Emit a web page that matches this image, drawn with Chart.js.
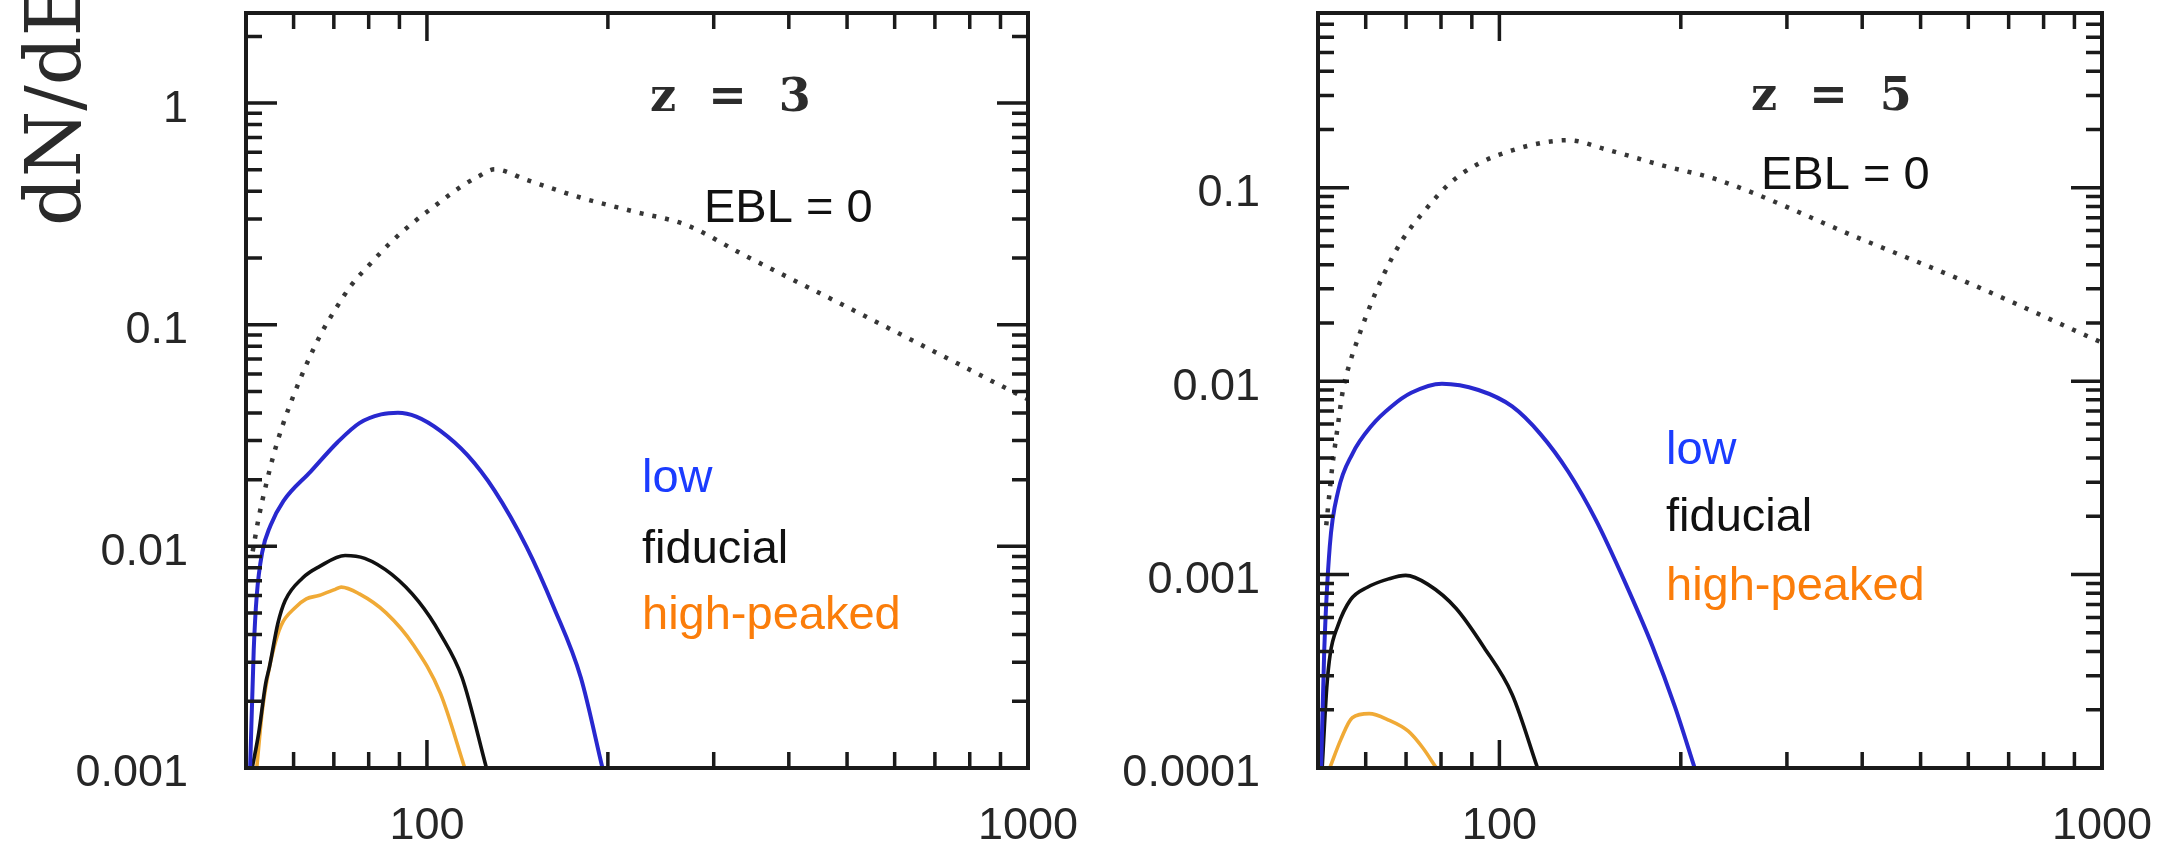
<!DOCTYPE html>
<html>
<head>
<meta charset="utf-8">
<script src="https://cdn.jsdelivr.net/npm/chart.js@4.4.1/dist/chart.umd.min.js"></script>
<style>
  html, body { margin: 0; padding: 0; background: #ffffff; }
  body { width: 2178px; height: 852px; position: relative; overflow: hidden; }
  canvas { position: absolute; top: 0; }
  #panelZ3 { left: 0; }
  #panelZ5 { left: 1100px; }
</style>
</head>
<body>
<canvas id="panelZ3" width="1100" height="852"></canvas>
<canvas id="panelZ5" width="1078" height="852"></canvas>
<script>
// ---- z = 3 : photon energy (GeV) and dN/dE ----
const energyZ3NoEbl = [51.3, 52.5, 54.0, 55.6, 57.5, 60.0, 63.0, 66.5, 70.5, 75.0, 80.0, 87.0, 95.0, 104, 114, 122, 129.5, 146.6, 180, 220, 270, 336, 507, 700, 1000];
const fluxZ3NoEbl   = [0.0095, 0.0135, 0.019, 0.026, 0.035, 0.048, 0.066, 0.09, 0.118, 0.152, 0.185, 0.235, 0.29, 0.35, 0.42, 0.468, 0.503, 0.45, 0.375, 0.325, 0.282, 0.207, 0.118, 0.0754, 0.046];

const energyZ3Low = [50.8, 51.5, 52.1, 53.2, 54.9, 57.7, 64.1, 71.0, 77.2, 83.9, 89.5, 96.0, 105.3, 116.8, 129.5, 146.6, 162.6, 180.3, 195.9];
const fluxZ3Low   = [0.001, 0.0034, 0.006, 0.0094, 0.0124, 0.016, 0.0218, 0.0295, 0.036, 0.0394, 0.0401, 0.0385, 0.0332, 0.0258, 0.0179, 0.0099, 0.0053, 0.00256, 0.001];

const energyZ3Fiducial = [51.2, 52.5, 53.9, 54.7, 56.5, 58.1, 62.1, 66.2, 73.1, 78.8, 87.4, 96.9, 105.3, 114.4, 125.6];
const fluxZ3Fiducial   = [0.001, 0.00144, 0.0024, 0.00286, 0.0045, 0.0057, 0.0072, 0.0081, 0.0091, 0.00883, 0.00747, 0.00563, 0.00402, 0.00256, 0.001];

const energyZ3HighPeaked = [52.1, 53.2, 54.2, 55.5, 57.2, 60.4, 63.0, 66.1, 70.4, 72.0, 77.2, 85.6, 94.9, 105.3, 115.6];
const fluxZ3HighPeaked   = [0.001, 0.0018, 0.0025, 0.0034, 0.0044, 0.0053, 0.0058, 0.006, 0.0064, 0.00655, 0.0061, 0.005, 0.0036, 0.00217, 0.001];

// ---- z = 5 ----
const energyZ5NoEbl = [51.6, 52.8, 53.9, 55.0, 56.5, 58.0, 60.2, 64.1, 69.1, 75.3, 82.9, 92.3, 105, 119.4, 130, 150, 187, 230, 397, 610, 1000];
const fluxZ5NoEbl   = [0.0018, 0.0036, 0.0058, 0.009, 0.0125, 0.016, 0.022, 0.035, 0.054, 0.0766, 0.106, 0.133, 0.156, 0.172, 0.176, 0.158, 0.13, 0.11, 0.0545, 0.0315, 0.0158];

const energyZ5Low = [50.6, 51.2, 52.3, 54.0, 57.0, 61.4, 66.2, 71.4, 80.3, 92.3, 105, 116.9, 130.2, 144.9, 161.3, 179.6, 195.6, 210.9];
const fluxZ5Low   = [0.0001, 0.0004, 0.0014, 0.0027, 0.0042, 0.0059, 0.0074, 0.0087, 0.0097, 0.009, 0.0074, 0.00534, 0.00339, 0.00189, 0.000925, 0.000424, 0.000207, 0.0001];

const energyZ5Fiducial = [50.8, 51.7, 52.4, 53.9, 56.6, 60.4, 65.5, 69.9, 76.1, 84.7, 94.3, 105, 115.7];
const fluxZ5Fiducial   = [0.0001, 0.00026, 0.00039, 0.00054, 0.00074, 0.00086, 0.00095, 0.00099, 0.00089, 0.00067, 0.00042, 0.00024, 0.0001];

const energyZ5HighPeaked = [52.3, 54.6, 57.0, 60.8, 65.5, 70.6, 74.5, 78.6];
const fluxZ5HighPeaked   = [0.0001, 0.000141, 0.000182, 0.000191, 0.000177, 0.000155, 0.000128, 0.0001];

// ---- axes ----
const energyRange = [50, 1000];
const fluxRangeZ3 = [0.001, 2.55];
const fluxRangeZ5 = [0.0001, 0.8];
const energyTickLabels = ['100', '1000'];
const fluxTickLabelsZ3 = ['1', '0.1', '0.01', '0.001'];
const fluxTickLabelsZ5 = ['0.1', '0.01', '0.001', '0.0001'];

const COLORS = {
  noEbl: '#363636',
  low: '#2828cf',
  fiducial: '#111111',
  highPeaked: '#f0aa36',
  lowText: '#1b3cff',
  highText: '#fb7d0a',
  axis: '#1a1a1a'
};

const SANS = '"Liberation Sans", Arial, Helvetica, sans-serif';

function pairs(xs, ys) {
  return xs.map((x, i) => ({ x: x, y: ys[i] }));
}

function labelFor(list) {
  return function (value) {
    const hit = list.find(t => Math.abs(Number(t) - value) / value < 1e-6);
    return hit === undefined ? '' : hit;
  };
}

// minor/major positions 1..9 x 10^k strictly inside [min, max]
function logTickValues(min, max) {
  const out = [];
  for (let e = Math.floor(Math.log10(min)); e <= Math.ceil(Math.log10(max)); e++) {
    for (let m = 1; m <= 9; m++) {
      const v = m * Math.pow(10, e);
      if (v > min * 1.0001 && v < max * 0.9999) out.push({ v: v, major: m === 1 });
    }
  }
  return out;
}

// Boxed frame with inward ticks on all four sides
const framePlugin = {
  id: 'frameTicks',
  afterDatasetsDraw(chart, args, opts) {
    const ctx = chart.ctx, a = chart.chartArea;
    const xs = chart.scales.x, ys = chart.scales.y;
    ctx.save();
    ctx.strokeStyle = COLORS.axis;
    ctx.lineCap = 'butt';
    ctx.lineWidth = 3.5;
    ctx.beginPath();
    for (const t of logTickValues(xs.min, xs.max)) {
      const p = xs.getPixelForValue(t.v);
      const len = t.major ? opts.xMajor : opts.xMinor;
      ctx.moveTo(p, a.bottom); ctx.lineTo(p, a.bottom - len);
      ctx.moveTo(p, a.top); ctx.lineTo(p, a.top + len);
    }
    for (const t of logTickValues(ys.min, ys.max)) {
      const p = ys.getPixelForValue(t.v);
      const len = t.major ? opts.yMajor : opts.yMinor;
      ctx.moveTo(a.left, p); ctx.lineTo(a.left + len, p);
      ctx.moveTo(a.right, p); ctx.lineTo(a.right - len, p);
    }
    ctx.stroke();
    ctx.lineWidth = 4;
    ctx.strokeRect(a.left, a.top, a.right - a.left, a.bottom - a.top);
    ctx.restore();
  }
};

// Panel annotations: redshift tag, EBL = 0 tag, model names, axis title
const textPlugin = {
  id: 'panelText',
  afterDraw(chart, args, opts) {
    const ctx = chart.ctx, a = chart.chartArea;
    ctx.save();
    for (const it of opts.items || []) {
      ctx.font = it.font;
      ctx.fillStyle = it.color;
      ctx.textBaseline = 'alphabetic';
      ctx.textAlign = 'left';
      const x = it.fromCanvas ? it.dx : a.left + it.dx;
      const y = it.fromCanvas ? it.dy : a.top + it.dy;
      if (it.rotate) {
        ctx.save();
        ctx.translate(x, y);
        ctx.rotate(it.rotate);
        ctx.fillText(it.text, 0, 0);
        ctx.restore();
      } else {
        ctx.fillText(it.text, x, y);
      }
    }
    ctx.restore();
  }
};

function makeDatasets(noE, noF, lowE, lowF, fidE, fidF, hiE, hiF) {
  return [
    { label: 'EBL = 0', data: pairs(noE, noF), borderColor: COLORS.noEbl, borderWidth: 4.5,
      borderDash: [4, 9], cubicInterpolationMode: 'monotone' },
    { label: 'low', data: pairs(lowE, lowF), borderColor: COLORS.low, borderWidth: 4,
      cubicInterpolationMode: 'monotone' },
    { label: 'fiducial', data: pairs(fidE, fidF), borderColor: COLORS.fiducial, borderWidth: 3.6,
      cubicInterpolationMode: 'monotone' },
    { label: 'high-peaked', data: pairs(hiE, hiF), borderColor: COLORS.highPeaked, borderWidth: 3.6,
      cubicInterpolationMode: 'monotone' }
  ];
}

function makeOptions(yRange, yLabels, yWidth, rightPad, items) {
  return {
    responsive: false,
    animation: false,
    events: [],
    layout: { padding: { left: 0, right: rightPad, top: 13, bottom: 0 } },
    elements: { point: { radius: 0 }, line: { fill: false } },
    plugins: {
      legend: { display: false },
      tooltip: { enabled: false },
      frameTicks: { xMajor: 28, xMinor: 16, yMajor: 31, yMinor: 16 },
      panelText: { items: items }
    },
    scales: {
      x: {
        type: 'logarithmic', min: energyRange[0], max: energyRange[1],
        grid: { display: false }, border: { display: false },
        afterFit: s => { s.height = 84; s.paddingLeft = 0; s.paddingRight = 0; },
        ticks: { autoSkip: false, maxRotation: 0, padding: 24, color: '#262626',
                 font: { family: SANS, size: 45 }, callback: labelFor(energyTickLabels) }
      },
      y: {
        type: 'logarithmic', min: yRange[0], max: yRange[1],
        grid: { display: false }, border: { display: false },
        afterFit: s => { s.width = yWidth; s.paddingTop = 0; s.paddingBottom = 0; },
        ticks: { autoSkip: false, padding: 50, labelOffset: 6, color: '#262626',
                 font: { family: SANS, size: 45 }, callback: labelFor(yLabels) }
      }
    }
  };
}

const tagFont = 'bold 46px "DejaVu Serif", "Liberation Serif", serif';
const noteFont = '47px ' + SANS;

new Chart(document.getElementById('panelZ3'), {
  type: 'line',
  data: { datasets: makeDatasets(energyZ3NoEbl, fluxZ3NoEbl, energyZ3Low, fluxZ3Low,
                                 energyZ3Fiducial, fluxZ3Fiducial, energyZ3HighPeaked, fluxZ3HighPeaked) },
  options: makeOptions(fluxRangeZ3, fluxTickLabelsZ3, 246, 72, [
    { text: 'z  =  3', font: tagFont, color: '#2c2c2c', dx: 404, dy: 98 },
    { text: 'EBL = 0', font: noteFont, color: '#111111', dx: 458, dy: 209 },
    { text: 'low', font: noteFont, color: COLORS.lowText, dx: 396, dy: 479 },
    { text: 'fiducial', font: noteFont, color: '#111111', dx: 396, dy: 550 },
    { text: 'high-peaked', font: noteFont, color: COLORS.highText, dx: 396, dy: 616 },
    { text: 'dN/dE', font: '76px "DejaVu Serif", "Liberation Serif", serif', color: '#2a2a2a',
      fromCanvas: true, dx: 80, dy: 226, rotate: -Math.PI / 2 }
  ]),
  plugins: [framePlugin, textPlugin]
});

new Chart(document.getElementById('panelZ5'), {
  type: 'line',
  data: { datasets: makeDatasets(energyZ5NoEbl, fluxZ5NoEbl, energyZ5Low, fluxZ5Low,
                                 energyZ5Fiducial, fluxZ5Fiducial, energyZ5HighPeaked, fluxZ5HighPeaked) },
  options: makeOptions(fluxRangeZ5, fluxTickLabelsZ5, 218, 76, [
    { text: 'z  =  5', font: tagFont, color: '#2c2c2c', dx: 433, dy: 97 },
    { text: 'EBL = 0', font: noteFont, color: '#111111', dx: 443, dy: 176 },
    { text: 'low', font: noteFont, color: COLORS.lowText, dx: 348, dy: 451 },
    { text: 'fiducial', font: noteFont, color: '#111111', dx: 348, dy: 518 },
    { text: 'high-peaked', font: noteFont, color: COLORS.highText, dx: 348, dy: 587 }
  ]),
  plugins: [framePlugin, textPlugin]
});
</script>
</body>
</html>
